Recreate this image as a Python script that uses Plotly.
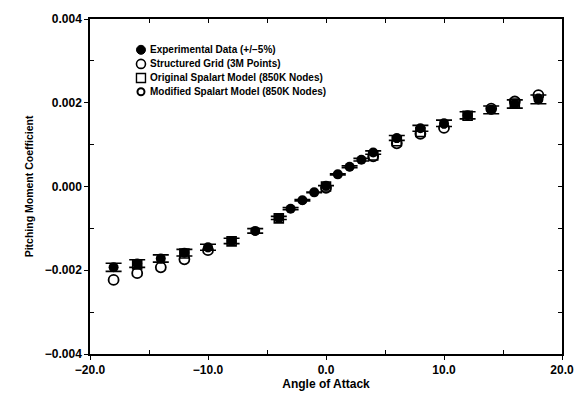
import plotly.graph_objects as go

# Experimental data (+/-5%)
x_exp = [-18, -16, -14, -12, -10, -8, -6, -4, -3, -2, -1, 0, 1, 2, 3, 4, 6, 8, 10, 12, 14, 16, 18]
y_exp = [-0.00193, -0.00184, -0.00172, -0.00158, -0.00145, -0.00130, -0.00106, -0.00075, -0.00053,
         -0.00033, -0.00014, 0.00002, 0.00029, 0.00047, 0.00064, 0.00081, 0.00116, 0.00139,
         0.00151, 0.00170, 0.00183, 0.00197, 0.00208]
err_exp = [abs(v) * 0.05 for v in y_exp]

# Structured grid (3M points)
x_sg = [-18, -16, -14, -12, -10, 0, 4, 6, 8, 10, 14, 16, 18]
y_sg = [-0.00223, -0.00207, -0.00193, -0.00174, -0.00152, -0.00003, 0.00072, 0.00103,
        0.00126, 0.00140, 0.00186, 0.00203, 0.00218]

# Original Spalart model (850K nodes)
x_os = [-16, -12, -8, -4, 0, 4, 6, 8, 12, 16]
y_os = [-0.00186, -0.00160, -0.00131, -0.00076, 0.00000, 0.00074, 0.00108, 0.00130, 0.00169, 0.00198]

# Modified Spalart model (850K nodes)
x_ms = [-14, -10, -6, -2, 2, 6, 10, 14, 18]
y_ms = [-0.00174, -0.00147, -0.00107, -0.00034, 0.00046, 0.00114, 0.00148, 0.00185, 0.00212]

legend_names = ["Experimental Data (+/\u22125%)", "Structured Grid (3M Points)",
                "Original Spalart Model (850K Nodes)", "Modified Spalart Model (850K Nodes)"]

x_ticks = [-20, -10, 0, 10, 20]
x_tick_text = ["\u221220.0", "\u221210.0", "0.0", "10.0", "20.0"]
y_ticks = [-0.004, -0.002, 0.0, 0.002, 0.004]
y_tick_text = ["\u22120.004", "\u22120.002", "0.000", "0.002", "0.004"]

FONT = "Liberation Sans, Arial"

fig = go.Figure()
fig.add_trace(go.Scatter(x=x_sg, y=y_sg, mode="markers", name=legend_names[1], showlegend=False,
                         marker=dict(symbol="circle-open", size=10, color="black", line=dict(width=1.8))))
fig.add_trace(go.Scatter(x=x_os, y=y_os, mode="markers", name=legend_names[2], showlegend=False,
                         marker=dict(symbol="square-open", size=9, color="black", line=dict(width=1.6))))
fig.add_trace(go.Scatter(x=x_ms, y=y_ms, mode="markers", name=legend_names[3], showlegend=False,
                         marker=dict(symbol="octagon-open", size=7, color="black", line=dict(width=1.8))))
fig.add_trace(go.Scatter(x=x_exp, y=y_exp, mode="markers", name=legend_names[0], showlegend=False,
                         marker=dict(symbol="circle", size=10, color="black"),
                         error_y=dict(type="data", array=err_exp, visible=True, color="black",
                                      thickness=1.6, width=8)))
# invisible trace to carry the mirrored (inward-ticked) top/right axes
fig.add_trace(go.Scatter(x=x_exp, y=y_exp, xaxis="x2", yaxis="y2", mode="markers",
                         marker=dict(opacity=0), showlegend=False, hoverinfo="skip"))

tickfont = dict(family=FONT, size=12, color="black", weight="bold")
axis_common = dict(showline=True, linecolor="black", linewidth=1.5,
                   ticks="outside", ticklen=4, tickcolor="black", showgrid=False, zeroline=False,
                   tickfont=tickfont)

fig.update_layout(
    xaxis=dict(range=[-20, 20], tickvals=x_ticks, ticktext=x_tick_text,
               minor=dict(tickvals=[-15, -5, 5, 15], ticks="inside", ticklen=4, tickcolor="black"),
               title=dict(text="Angle of Attack", font=dict(family=FONT, size=12, color="black", weight="bold"),
                          standoff=3),
               **axis_common),
    yaxis=dict(range=[-0.004, 0.004], tickvals=y_ticks, ticktext=y_tick_text,
               minor=dict(tickvals=[-0.003, -0.001, 0.001, 0.003], ticks="inside", ticklen=4, tickcolor="black"),
               title=dict(text="Pitching Moment Coefficient", font=dict(family=FONT, size=10.5, color="black", weight="bold"),
                          standoff=9),
               **axis_common),
    xaxis2=dict(overlaying="x", side="top", anchor="y", range=[-20, 20], showline=True, linecolor="black",
                linewidth=1.5, ticks="inside", ticklen=4, tickcolor="black", showticklabels=False,
                tickvals=[-15, -10, -5, 0, 5, 10, 15], showgrid=False, zeroline=False),
    yaxis2=dict(overlaying="y", side="right", anchor="x", range=[-0.004, 0.004], showline=True, linecolor="black",
                linewidth=1.5, ticks="inside", ticklen=4, tickcolor="black", showticklabels=False,
                tickvals=[-0.003, -0.002, -0.001, 0, 0.001, 0.002, 0.003], showgrid=False, zeroline=False),
    width=586, height=401,
    margin=dict(l=90, r=20, t=15, b=39),
    paper_bgcolor="white", plot_bgcolor="white",
    font=dict(family=FONT, color="black"),
    showlegend=False,
)

# manual compact legend (glyphs sized in pixels, anchored in paper coords)
rows_y = [0.908, 0.866, 0.824, 0.783]
gx = 0.108
tx = 0.122
for name, yy in zip(legend_names, rows_y):
    fig.add_annotation(x=tx, y=yy, xref="paper", yref="paper", text=name, showarrow=False,
                       xanchor="left", yanchor="middle",
                       font=dict(family=FONT, size=10, color="black", weight="bold"))
# filled circle
fig.add_shape(type="circle", xref="paper", yref="paper", xsizemode="pixel", ysizemode="pixel",
              xanchor=gx, yanchor=rows_y[0], x0=-4.5, x1=4.5, y0=-4.5, y1=4.5,
              fillcolor="black", line=dict(color="black", width=1))
# open circle
fig.add_shape(type="circle", xref="paper", yref="paper", xsizemode="pixel", ysizemode="pixel",
              xanchor=gx, yanchor=rows_y[1], x0=-4.5, x1=4.5, y0=-4.5, y1=4.5,
              line=dict(color="black", width=1.6))
# open square
fig.add_shape(type="rect", xref="paper", yref="paper", xsizemode="pixel", ysizemode="pixel",
              xanchor=gx, yanchor=rows_y[2], x0=-4.5, x1=4.5, y0=-4.5, y1=4.5,
              line=dict(color="black", width=1.4))
# small open octagon-like circle
fig.add_shape(type="circle", xref="paper", yref="paper", xsizemode="pixel", ysizemode="pixel",
              xanchor=gx, yanchor=rows_y[3], x0=-3.5, x1=3.5, y0=-3.5, y1=3.5,
              line=dict(color="black", width=2))

fig.write_html("out.html")
